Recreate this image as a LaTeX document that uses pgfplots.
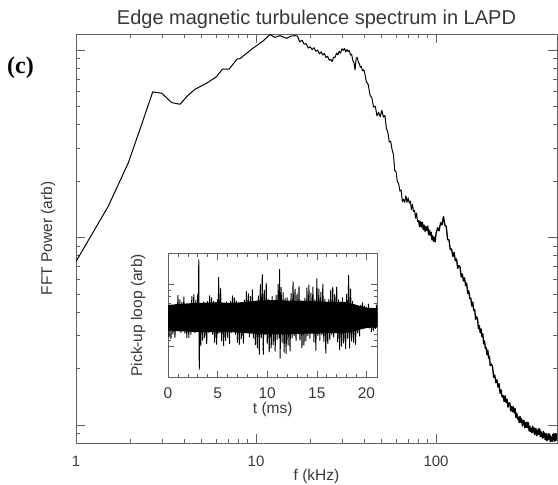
\documentclass[border=0pt]{standalone}
\usepackage{fontspec}
\setmainfont{Liberation Sans}
\newfontfamily\serifbold{Liberation Serif}
\usepackage{pgfplots}
\pgfplotsset{compat=1.18}
\definecolor{axgray}{gray}{0.38}
\definecolor{txt}{gray}{0.22}

\begin{document}
\begin{tikzpicture}
\useasboundingbox (-76bp,-42bp) rectangle (482bp,443bp);
\begin{axis}[
  name=main,
  at={(0,0)}, anchor=south west,
  scale only axis, width=481bp, height=409bp,
  xmode=log, xmin=1, xmax=470,
  ymin=-0.096, ymax=2.086,
  xtick={1,10,100}, xticklabels={1,10,100},
  ytick={0,1,2}, yticklabels={},
  minor ytick={-0.0458,0.301,0.477,0.602,0.699,0.778,0.845,0.903,0.954,1.301,1.477,1.602,1.699,1.778,1.845,1.903,1.954},
  tick align=inside,
  major tick length=9bp, minor tick length=4.5bp,
  axis line style={axgray, line width=0.9bp},
  every tick/.style={axgray, line width=0.7bp},
  xticklabel style={anchor=base, yshift=-23bp, font=\fontsize{15bp}{18bp}\selectfont, text=txt},
  title={Edge magnetic turbulence spectrum in LAPD},
  title style={at={(axis description cs:0.5,1.0098)}, anchor=base, inner sep=0pt, font=\fontsize{20bp}{24bp}\selectfont, text=txt},
  xlabel={f (kHz)},
  xlabel style={at={(axis description cs:0.5,-0.0929)}, anchor=base, inner sep=0pt, font=\fontsize{15.5bp}{18bp}\selectfont, text=txt},
  ylabel={FFT Power (arb)},
  ylabel style={at={(axis description cs:-0.0582,0.5)}, anchor=center, inner sep=0pt, font=\fontsize{15.5bp}{18bp}\selectfont, text=txt},
]
\addplot[black, line width=1.0bp, line join=round, mark=none] coordinates {
(1.00,0.872) (1.511,1.167) (1.953,1.399) (2.317,1.604) (2.668,1.777) (2.993,1.770)
(3.401,1.720) (3.783,1.711) (4.121,1.752) (4.58,1.791) (5.323,1.824) (6.05,1.859)
(6.50,1.898) (7.08,1.898) (7.85,1.952) (8.15,1.955) (9.465,2.005) (10.98,2.050)
(11.96,2.083) (12.75,2.068) (13.59,2.077) (14.81,2.063) (15.65,2.075) (16.5,2.077)
(17.0,2.075) (17.5,2.044) (18.0,2.053) (18.5,2.032) (19.0,2.035) (19.5,2.011)
(20.0,2.018) (20.5,2.002) (21.0,2.013) (21.5,1.994) (22.0,2.000) (22.5,1.980)
(23.0,1.991) (23.5,1.974) (24.0,1.982) (24.5,1.960) (25.0,1.967) (25.5,1.946)
(26.0,1.951) (26.5,1.939) (27.0,1.963) (27.5,1.961) (28.0,1.984) (28.5,1.975)
(29.0,1.993) (29.5,1.984) (30.0,2.007) (30.5,1.999) (31.0,2.009) (31.5,1.991)
(32.0,2.003) (32.5,1.992) (33.0,1.998) (33.5,1.974) (34.0,1.977) (34.5,1.945)
(35.0,1.934) (35.5,1.895) (36.0,1.955) (36.5,1.962) (37.0,1.935) (37.5,1.928)
(38.0,1.908) (38.5,1.912) (39.0,1.890) (39.5,1.895)
(40,1.888) (41,1.832) (42,1.817) (43,1.759) (44,1.746) (45,1.696) (46,1.700)
(47,1.649) (48,1.668) (49,1.644) (50,1.679) (51,1.643) (52,1.651) (53,1.583)
(54,1.562) (55,1.510) (56,1.514) (57,1.469) (58,1.444) (59,1.356) (60,1.351)
(61,1.297) (62,1.289) (63,1.248) (64,1.254) (65,1.193) (66,1.203) (67,1.188)
(68,1.223) (69,1.188) (70,1.212) (71,1.184) (72,1.195) (73,1.149) (74,1.177)
(75,1.139) (76,1.145) (77,1.104) (78,1.130) (79,1.085) (80,1.093)
};
\addplot[black, line width=1.35bp, line join=round, mark=none] coordinates {
(80,1.093) (81,1.058)
(82,1.086) (83,1.056) (84,1.081) (85,1.042) (86,1.066) (87,1.033) (88,1.059)
(89,1.038) (90,1.061) (91,1.015) (92,1.039) (93,1.011) (94,1.028) (95,0.987)
(96,1.009) (97,0.980) (98,1.002) (99,0.977) (100,1.020)
(102,1.052) (104,1.036) (106,1.079) (108,1.068) (110,1.112) (112,1.067)
(114,1.060) (116,0.988) (118,0.988) (120,0.936) (122,0.939) (124,0.899)
(126,0.921) (128,0.876) (130,0.886) (132,0.836) (134,0.850) (136,0.843)
(138,0.790) (140,0.806) (142,0.768) (144,0.785) (146,0.743) (148,0.757)
(150,0.702) (152,0.716) (154,0.675) (156,0.677) (158,0.635) (160,0.656)
(162,0.610) (164,0.616) (166,0.564) (168,0.577) (170,0.568) (172,0.515)
(174,0.530) (176,0.492) (178,0.512) (180,0.471) (182,0.486) (184,0.433)
(186,0.448) (188,0.408) (190,0.413) (192,0.375) (194,0.399) (196,0.356)
(198,0.366) (200,0.317) (203,0.325) (206,0.312) (209,0.255) (212,0.266)
(215,0.226) (218,0.241) (221,0.202) (224,0.220) (227,0.169) (230,0.187)
(233,0.149) (236,0.157) (239,0.125) (242,0.156) (245,0.120) (248,0.137)
(251,0.095) (254,0.117) (257,0.118) (260,0.075) (263,0.099) (266,0.071)
(269,0.097) (272,0.064) (275,0.087) (278,0.040) (281,0.063) (284,0.031)
(287,0.043) (290,0.013) (293,0.045) (296,0.013) (299,0.033) (302,-0.005)
(305,0.021) (308,0.025) (311,-0.015) (314,0.012) (317,-0.013) (320,0.016)
(323,-0.014) (326,0.012) (329,-0.032) (332,-0.006) (335,-0.034) (338,-0.017)
(341,-0.042) (344,-0.006) (347,-0.037) (350,-0.015) (353,-0.051) (356,-0.024)
(359,-0.018) (362,-0.057) (365,-0.028) (368,-0.051) (371,-0.020) (374,-0.049)
(377,-0.021) (380,-0.063) (383,-0.035) (386,-0.063) (389,-0.046) (392,-0.071)
(395,-0.035) (398,-0.065) (401,-0.043) (404,-0.079) (407,-0.052) (410,-0.046)
(413,-0.084) (416,-0.055) (419,-0.078) (422,-0.047) (425,-0.075) (428,-0.048)
(431,-0.089) (434,-0.059) (437,-0.085) (440,-0.065) (443,-0.088) (446,-0.049)
(449,-0.077) (452,-0.052) (455,-0.086) (458,-0.056) (461,-0.047) (464,-0.083)
(467,-0.052) (470,-0.073)
};
\end{axis}

\begin{axis}[
  at={(92bp,66bp)}, anchor=south west,
  scale only axis, width=209.4bp, height=123.4bp,
  axis background/.style={fill=white},
  xmin=0, xmax=21.1, ymin=-1.55, ymax=1.55,
  xtick={0,5,10,15,20}, minor x tick num=4,
  ytick={-0.775,0,0.775}, yticklabels={}, minor y tick num=4,
  tick align=inside,
  major tick length=6bp, minor tick length=3bp,
  axis line style={axgray, line width=0.9bp},
  every tick/.style={axgray, line width=0.6bp},
  /pgf/number format/assume math mode=true,
  xticklabel style={anchor=base, yshift=-22bp, font=\fontsize{15.5bp}{18bp}\selectfont, text=txt},
  xlabel={t (ms)},
  xlabel style={at={(axis description cs:0.5,-0.2998)}, anchor=base, inner sep=0pt, font=\fontsize{15.5bp}{18bp}\selectfont, text=txt},
  ylabel={Pick-up loop (arb)},
  ylabel style={at={(axis description cs:-0.1433,0.5)}, anchor=center, inner sep=0pt, font=\fontsize{15.5bp}{18bp}\selectfont, text=txt},
]
% solid core of the signal band
\addplot[fill=black, draw=none] coordinates {
(0,0.26) (1,0.28) (2,0.30) (3,0.31) (4,0.32) (5,0.33) (6,0.31) (7,0.32) (8,0.34)
(9,0.37) (10,0.38) (11,0.38) (12,0.37) (13,0.36) (14,0.36) (15,0.35) (16,0.34)
(17,0.34) (18,0.33) (19,0.26) (20,0.19) (21.1,0.18)
(21.1,-0.30) (20,-0.32) (19,-0.38) (18,-0.44) (17,-0.45) (16,-0.45) (15,-0.46)
(14,-0.46) (13,-0.47) (12,-0.48) (11,-0.48) (10,-0.48) (9,-0.47) (8,-0.45)
(7,-0.43) (6,-0.42) (5,-0.43) (4,-0.42) (3,-0.42) (2,-0.41) (1,-0.40) (0,-0.38)
} --cycle;
\addplot[black, line width=0.95bp, line join=round, mark=none] coordinates {
(0.0,0.26) (0.1,-0.55) (0.2,0.18) (0.3,-0.59) (0.4,0.22) (0.5,-0.47) (0.6,0.14)
(0.7,-0.56) (0.8,0.28) (0.9,-0.37) (1.0,0.50) (1.1,-0.35) (1.2,0.39) (1.3,-0.43)
(1.4,0.33) (1.5,-0.34) (1.6,0.46) (1.7,-0.45) (1.8,0.22) (1.9,-0.57) (2.0,0.23)
(2.1,-0.56) (2.2,0.29) (2.3,-0.48) (2.4,0.47) (2.5,-0.39) (2.6,0.52) (2.7,-0.44)
(2.8,0.38) (2.9,-0.34) (3.0,0.54) (3.05,-0.40) (3.10,1.40) (3.15,-1.36) (3.2,0.28)
(3.3,-0.76) (3.4,0.24) (3.5,-0.63) (3.6,0.33) (3.7,-0.56) (3.8,0.22) (3.9,-0.71)
(4.0,0.35) (4.1,-0.43) (4.2,0.49) (4.3,-0.41) (4.4,0.44) (4.5,-0.48) (4.6,0.35)
(4.7,-0.68) (4.8,0.26) (4.9,-0.73) (5.0,0.39) (5.05,-0.45) (5.1,0.95) (5.2,-0.42)
(5.3,0.67) (5.4,-0.64) (5.5,0.28) (5.6,-0.76) (5.7,0.24) (5.8,-0.63) (5.9,0.33)
(6.0,-0.56) (6.1,0.22) (6.2,-0.71) (6.3,0.35) (6.4,-0.43) (6.5,0.49) (6.6,-0.41)
(6.7,0.44) (6.8,-0.48) (6.9,0.35) (7.0,-0.68) (7.1,0.26) (7.2,-0.73) (7.3,0.31)
(7.4,-0.58) (7.5,0.20) (7.6,-0.70) (7.7,0.38) (7.8,-0.44) (7.9,0.60) (8.0,-0.44)
(8.1,0.54) (8.2,-0.54) (8.3,0.47) (8.4,-0.42) (8.5,0.64) (8.6,-0.57) (8.7,0.32)
(8.8,-0.74) (8.9,0.30) (9.0,-0.82) (9.1,0.49) (9.2,-0.98) (9.3,0.77) (9.4,-0.56)
(9.5,1.02) (9.6,-0.98) (9.7,0.63) (9.8,-0.48) (9.9,0.80) (10.0,-0.71) (10.1,0.41)
(10.2,-0.92) (10.3,0.35) (10.4,-0.82) (10.5,0.47) (10.6,-0.74) (10.7,0.33)
(10.8,-0.90) (10.9,0.50) (11.0,-0.61) (11.1,0.78) (11.2,-0.57) (11.25,1.15)
(11.3,-1.08) (11.4,0.70) (11.5,-0.68) (11.6,0.57) (11.7,-0.93) (11.8,0.42)
(11.9,-0.96) (12.0,0.44) (12.1,-0.75) (12.2,0.30) (12.3,-0.90) (12.4,0.55)
(12.5,-0.57) (12.6,0.84) (12.7,-0.51) (12.8,0.66) (12.9,-0.63) (13.0,0.54)
(13.1,-0.47) (13.2,0.73) (13.3,-0.63) (13.4,0.37) (13.5,-0.82) (13.6,0.34)
(13.7,-0.75) (13.8,0.43) (13.9,-0.64) (14.0,0.69) (14.1,-0.51) (14.2,0.76)
(14.3,-0.58) (14.4,0.56) (14.5,-0.44) (14.6,0.71) (14.7,-0.67) (14.8,0.39)
(14.9,-0.88) (15.0,0.92) (15.1,-0.51) (15.2,0.66) (15.3,-0.63) (15.4,0.58)
(15.5,-0.49) (15.6,0.78) (15.7,-0.66) (15.8,0.40) (15.9,-0.95) (16.0,0.32)
(16.1,-0.71) (16.2,0.40) (16.3,-0.61) (16.4,0.64) (16.5,-0.49) (16.6,0.71)
(16.7,-0.55) (16.8,0.52) (16.9,-0.42) (17.0,0.71) (17.1,-0.67) (17.2,0.39)
(17.3,-0.86) (17.4,0.33) (17.5,-0.78) (17.6,0.44) (17.7,-0.70) (17.8,0.31)
(17.9,-0.84) (18.0,0.53) (18.1,-0.58) (18.2,1.00) (18.3,-0.82) (18.4,0.66)
(18.5,-0.65) (18.6,0.35) (18.7,-0.68) (18.8,0.26) (18.9,-0.73) (19.0,0.20)
(19.1,-0.44) (19.2,0.12) (19.3,-0.52) (19.4,0.25) (19.5,-0.29) (19.6,0.31)
(19.7,-0.26) (19.8,0.23) (19.9,-0.31) (20.0,0.20) (20.1,-0.25) (20.2,0.28)
(20.3,-0.32) (20.4,0.12) (20.5,-0.41) (20.6,0.11) (20.7,-0.38) (20.8,0.15)
(20.9,-0.33) (21.0,0.26) (21.1,-0.27)
};
\end{axis}

\node[font=\serifbold\bfseries\fontsize{24bp}{28bp}\selectfont, text=black, anchor=center, inner sep=0pt] at (-55.5bp,375.5bp) {(c)};
\end{tikzpicture}
\end{document}
